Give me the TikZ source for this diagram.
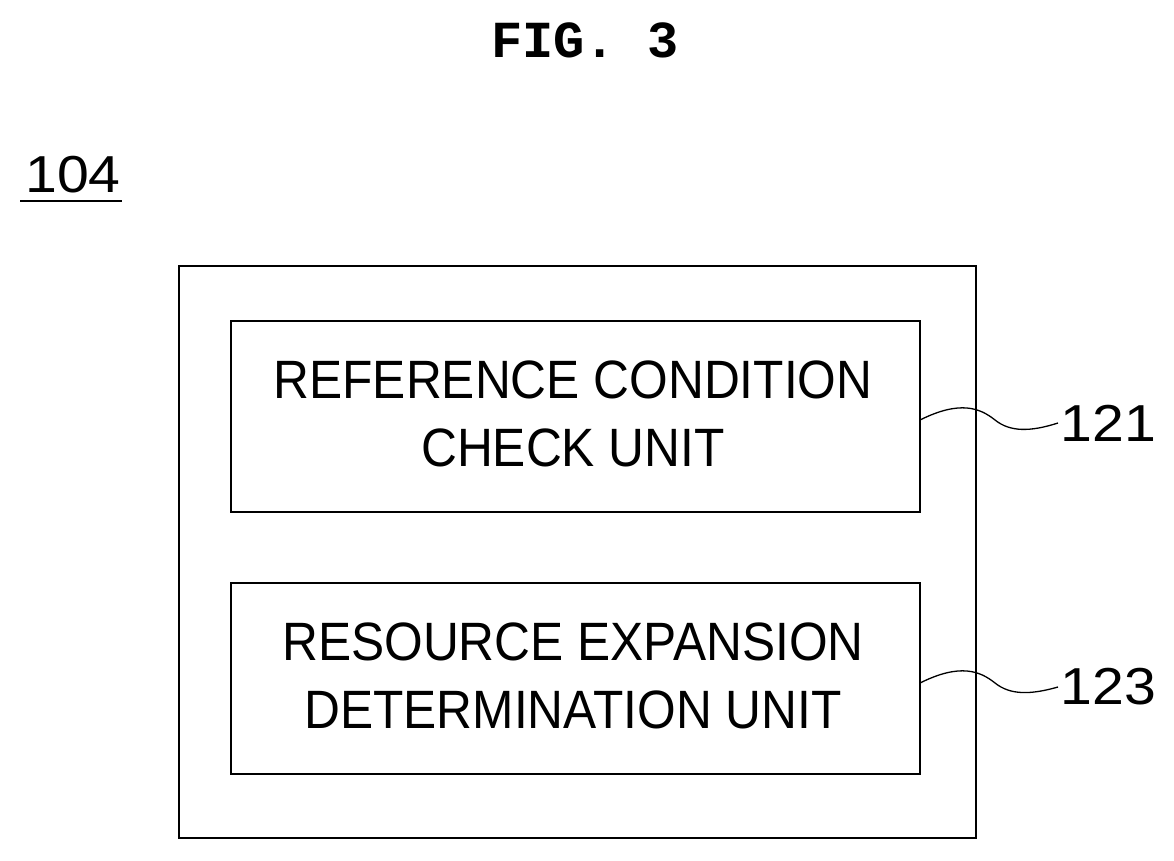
\documentclass[tikz,border=0pt]{standalone}
\usepackage{fontspec}
\setmainfont{Liberation Sans}
\setmonofont{Liberation Mono}
\begin{document}
\begin{tikzpicture}[x=1pt,y=-1pt,
  box/.style={draw,line width=2pt},
  lbl/.style={font=\fontsize{54}{68}\selectfont,align=center,xscale=0.92,transform shape},
  num/.style={font=\fontsize{52}{56}\selectfont,xscale=1.1,transform shape,anchor=west,inner sep=2pt},
  lead/.style={line width=1.3pt}]
\useasboundingbox (0,0) rectangle (1174,861);
\node (title) at (585,40) {\fontsize{52}{56}\selectfont\ttfamily\bfseries FIG. 3};
\node[xscale=1.1,transform shape] (ref) at (73,175) {\fontsize{52}{56}\selectfont 104};
\draw[line width=1.5pt] (20,201) -- (122,201);
\draw[box] (179,266) rectangle (976,838);
\draw[box] (231,321) rectangle (920,512);
\draw[box] (231,583) rectangle (920,774);
\node[lbl] (b1) at (573,414) {REFERENCE CONDITION\\CHECK UNIT};
\node[lbl] (b2) at (573,676) {RESOURCE EXPANSION\\DETERMINATION UNIT};
\node[num] (n121) at (1058,423) {121};
\node[num] (n123) at (1058,687) {123};
\coordinate (e1) at (920,420);
\coordinate (e2) at (920,683);
\draw[lead] (e1) .. controls (960,400) and (980,408) .. (995,420) .. controls (1010,432) and (1030,432) .. (n121.west);
\draw[lead] (e2) .. controls (960,663) and (980,671) .. (995,683) .. controls (1010,695) and (1030,695) .. (n123.west);
\end{tikzpicture}
\end{document}
